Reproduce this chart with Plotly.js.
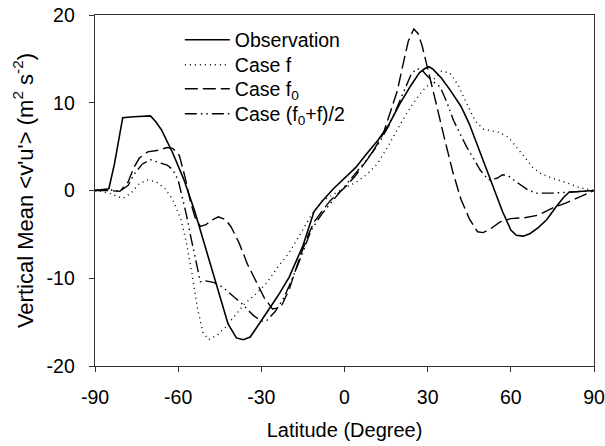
<!DOCTYPE html>
<html>
<head>
<meta charset="utf-8">
<script src="https://cdn.plot.ly/plotly-3.0.1.min.js"></script>
<style>html,body{margin:0;padding:0;background:#fff;}#chart{width:605px;height:446px;}</style>
</head>
<body>
<div id="chart"></div>
<script>
// Observation (solid)
var latObs = [-90,-85,-83,-80,-76,-72,-70,-68,-66,-62,-58,-54,-50,-46,-42,-39,-36.5,-34,-31,-28,-24,-20,-15,-11,-8,-4,0,4,8,12,16,20,24,27,29,30.5,32,35,38,42,45,48,51,54,57,60,62,64.5,67,70,73,76,79,81,85,90];
var obs    = [0,0.2,3,8.3,8.4,8.5,8.5,7.8,6.9,4.3,1.3,-2.4,-6.6,-10.9,-15.2,-16.8,-17.0,-16.7,-15.3,-13.9,-12.0,-9.9,-6.3,-2.4,-1.2,0.2,1.4,2.6,4.2,5.7,7.5,9.9,12.0,13.4,13.9,14.1,13.8,12.8,11.5,9.6,7.6,5.1,2.7,0.1,-2.4,-4.5,-5.1,-5.2,-4.9,-4.2,-3.3,-2.0,-0.8,-0.2,-0.1,0];

// Case f (dotted)
var latF = [-90,-85,-80,-77,-74,-71,-68,-65,-62,-59,-57,-55,-53,-51,-49,-46,-43,-40,-36,-32,-28,-24,-20,-16,-12,-8,-4,0,4,8,12,16,20,24,28,32,35,38,41,44,47,50,53,56,59,62,65,68,71,75,80,85,90];
var caseF = [0,-0.3,-0.9,-0.3,0.8,1.2,1.0,0.3,-1.0,-3.3,-6.0,-9.5,-13.5,-16.2,-17.0,-16.5,-15.6,-14.4,-12.9,-11.8,-10.5,-8.7,-7.1,-5.0,-2.8,-1.2,-0.4,0.3,0.9,1.8,3.1,5.2,7.5,9.6,11.3,12.6,13.6,13.4,12.0,10.0,8.0,7.0,6.8,6.6,6.1,5.0,3.8,2.6,1.9,1.4,0.9,0.3,0];

// Case f0 (long dash)
var latF0 = [-90,-85,-81,-78,-76,-74,-71,-67,-64,-62,-60,-59.5,-57.5,-55.7,-54,-52,-50,-48,-45.5,-43,-41,-38,-35,-32,-29,-26,-24,-22.5,-20,-18,-16,-13,-11,-8,-5,0,4,7,10,14,17,19,21,23,25,26.5,28,30,33,36,39,42,45,48,50,53,56,60,65,70,75,80,85,90];
var caseF0 = [0,0,-0.1,1.0,2.6,3.7,4.4,4.6,4.9,4.8,4.2,3.9,1.5,-1.1,-3.0,-4.1,-3.9,-3.4,-3.0,-3.3,-4.1,-6.0,-8.4,-10.4,-12.2,-13.5,-13.4,-13.0,-11.3,-9.4,-7.5,-5.0,-3.6,-2.3,-1.1,0.3,1.7,3.0,4.3,6.5,9.3,11.3,14.2,17.0,18.4,17.9,16.5,14.0,10.0,6.0,2.2,-1.0,-3.2,-4.7,-4.8,-4.3,-3.6,-3.2,-3.1,-2.8,-2.0,-1.4,-0.7,0];

// Case (f0+f)/2 (dash-dot-dot)
var latMid = [-90,-85,-81,-78,-76,-73,-70,-67,-64,-62,-60,-58.5,-57,-55.5,-54,-52,-50,-47,-44,-41,-37,-33,-30,-28,-25,-22,-19,-15,-12,-8,-4,0,4,8,12,16,19,22,24,26,28,30,32,34.5,37,39.3,42,44,47,49,52,55,57,59,61,64,66,69,75,80,85,90];
var caseMid = [0,0.1,-0.1,0.6,1.8,3.0,3.5,3.2,2.9,2.4,1.2,-0.8,-2.8,-5.2,-7.6,-10.4,-10.3,-10.5,-11.0,-11.8,-12.9,-14.2,-14.9,-14.8,-13.8,-12.3,-10.2,-7.0,-4.5,-2.6,-1.1,0.4,1.9,3.5,5.2,7.4,9.5,11.8,13.2,13.9,13.7,13.0,12.4,11.8,10.0,8.0,6.3,5.0,3.4,2.3,1.2,1.4,1.8,1.7,1.2,0.6,0.1,-0.3,-0.3,-0.2,-0.1,0];

var xTicks = [-90,-60,-30,0,30,60,90];
var yTicks = [-20,-10,0,10,20];
var names = ['Observation','Case f','Case f<sub>0</sub>','Case (f<sub>0</sub>+f)/2'];

var FONT = 'Liberation Sans, Arial, Helvetica, sans-serif';
var traces = [
  {x: latObs, y: obs, name: names[0], legend: 'legend', mode: 'lines', line: {color: '#000', width: 1.6, dash: 'solid'}},
  {x: latF, y: caseF, name: names[1], legend: 'legend2', mode: 'lines', line: {color: '#000', width: 1.4, dash: '1px,4px'}},
  {x: latF0, y: caseF0, name: names[2], legend: 'legend3', mode: 'lines', line: {color: '#000', width: 1.4, dash: '13px,5px'}},
  {x: latMid, y: caseMid, name: names[3], legend: 'legend4', mode: 'lines', line: {color: '#000', width: 1.4, dash: '12px,4px,1.5px,4px,1.5px,4px'}}
];

function leg(py) {
  return {x: 0.17, y: (366 - py) / 351, xanchor: 'left', yanchor: 'middle', bgcolor: 'rgba(0,0,0,0)', borderwidth: 0,
          font: {family: FONT, size: 19.5, color: '#000'}, itemwidth: 45};
}

var layout = {
  width: 605, height: 446,
  margin: {l: 95, r: 11, t: 15, b: 80},
  paper_bgcolor: '#fff', plot_bgcolor: '#fff',
  font: {family: FONT, size: 19, color: '#000'},
  showlegend: true,
  legend: leg(40),
  legend2: leg(65),
  legend3: leg(89),
  legend4: leg(114),
  xaxis: {range: [-90, 90], tickvals: xTicks, ticktext: xTicks.map(String), ticks: 'outside', ticklen: 5, tickwidth: 1, tickcolor: '#333',
          showline: true, mirror: true, linecolor: '#333', linewidth: 1.3, showgrid: false, zeroline: false,
          ticklabelstandoff: 8, tickfont: {family: FONT, size: 19.5},
          title: {text: 'Latitude (Degree)', font: {family: FONT, size: 20}, standoff: 16}},
  yaxis: {range: [-20, 20], tickvals: yTicks, ticktext: yTicks.map(String), ticks: 'outside', ticklen: 5, tickwidth: 1, tickcolor: '#333',
          showline: true, mirror: true, linecolor: '#333', linewidth: 1.3, showgrid: false, zeroline: false,
          ticklabelstandoff: 10, tickfont: {family: FONT, size: 19.5},
          title: {text: "Vertical Mean &lt;v'u'&gt; (m<sup>2</sup> s<sup>-2</sup>)", font: {family: FONT, size: 22}, standoff: 7}}
};

Plotly.newPlot('chart', traces, layout, {displayModeBar: false, staticPlot: true});
</script>
</body>
</html>
